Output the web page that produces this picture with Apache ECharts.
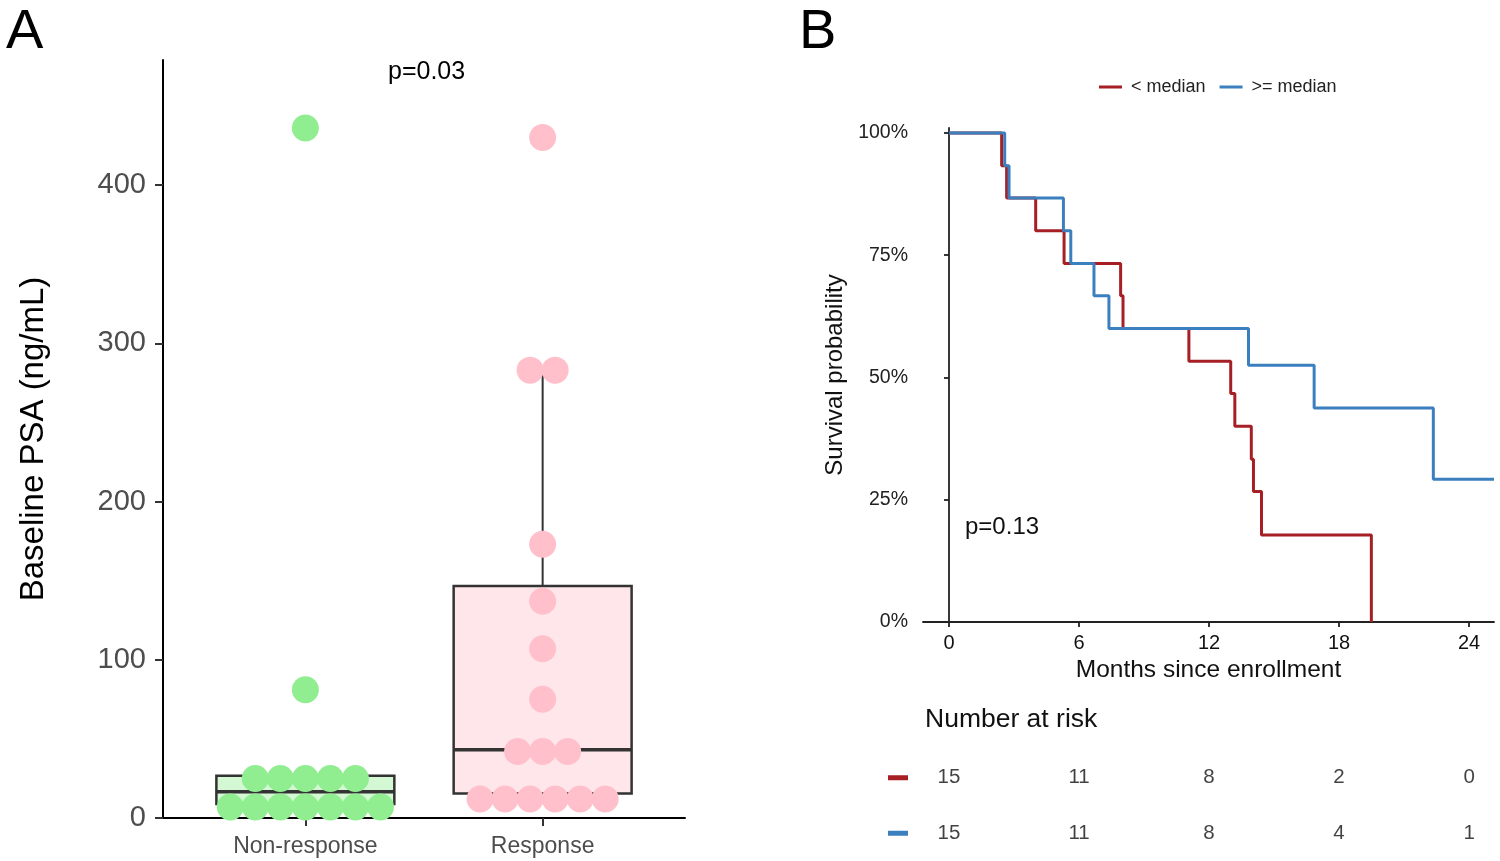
<!DOCTYPE html>
<html><head><meta charset="utf-8">
<script src="https://cdn.jsdelivr.net/npm/echarts@6/dist/echarts.min.js"></script>
<style>html,body{margin:0;padding:0;background:#fff}#c{width:1500px;height:861px}</style>
</head><body><div id="c"></div>
<script>
// ---------- Panel A data ----------
const groups = ['Non-response', 'Response'];
const nonResponsePSA = [436, 81, 25, 25, 25, 25, 25, 7, 7, 7, 7, 7, 7, 7];
const responsePSA = [430, 283, 283, 173, 137, 107, 75, 42, 42, 42, 12, 12, 12, 12, 12, 12];
// box stats: [lower whisker, Q1, median, Q3, upper whisker]
const nonResponseBox = [7, 8.8, 16.6, 26.7, 26.7];
const responseBox = [12, 15.5, 43.2, 146.6, 283];
const psaTicks = [0, 100, 200, 300, 400];

// ---------- Panel B data ----------
const seriesNames = ['< median', '>= median'];
const lowTimes = [0, 2.43, 2.66, 4.0, 5.31, 7.92, 8.03, 11.07, 13.0, 13.19, 13.95, 14.05, 14.42, 19.49];
const lowSurv  = [1, 0.933, 0.867, 0.8, 0.733, 0.667, 0.6, 0.533, 0.467, 0.4, 0.333, 0.267, 0.178, 0];
const highTimes = [0, 2.57, 2.77, 5.28, 5.62, 6.69, 7.38, 13.82, 16.85, 22.35, 25.15];
const highSurv  = [1, 0.933, 0.867, 0.8, 0.733, 0.667, 0.6, 0.525, 0.4375, 0.292, 0.292];
const monthTicks = [0, 6, 12, 18, 24];
const survTicks = [0, 0.25, 0.5, 0.75, 1];
const riskTimes = [0, 6, 12, 18, 24];
const riskLow = [15, 11, 8, 2, 0];
const riskHigh = [15, 11, 8, 4, 1];

// ---------- styles ----------
const GREEN = '#90EE90', PINK = '#FFC0CB';
const GREEN_FILL = '#d3f8d3', PINK_FILL = '#ffe6ea';
const RED = '#a51f24', BLUE = '#3b7fbf';
const FONT = '"Liberation Sans", Arial, Helvetica, sans-serif';
const DOT_STEP = 0.1055, BOX_HALF = 0.375;

function dotLayout(values, pos) {
  const counts = new Map();
  values.forEach(v => counts.set(v, (counts.get(v) || 0) + 1));
  const out = [];
  counts.forEach((n, v) => {
    for (let i = 0; i < n; i++) out.push([pos + (i - (n - 1) / 2) * DOT_STEP, v]);
  });
  return out;
}
const zip = (a, b) => a.map((v, i) => [v, b[i]]);

const boxFills = [GREEN_FILL, PINK_FILL];
const boxData = [[1, ...nonResponseBox], [2, ...responseBox]];

const chart = echarts.init(document.getElementById('c'), null, {renderer: 'canvas'});
chart.setOption({
  animation: false,
  backgroundColor: '#fff',
  textStyle: {fontFamily: FONT},
  title: [
    {text: 'A', left: 1, top: 0, textStyle: {fontSize: 56, fontWeight: 'normal', color: '#000', fontFamily: FONT}},
    {text: 'B', left: 794, top: 0, textStyle: {fontSize: 56, fontWeight: 'normal', color: '#000', fontFamily: FONT}},
    {text: 'p=0.03', left: 383, top: 55, textStyle: {fontSize: 25, fontWeight: 'normal', color: '#000', fontFamily: FONT}},
    {text: 'p=0.13', left: 960, top: 510, textStyle: {fontSize: 24, fontWeight: 'normal', color: '#111', fontFamily: FONT}},
    {text: 'Number at risk', left: 920, top: 701, textStyle: {fontSize: 26.5, fontWeight: 'normal', color: '#111', fontFamily: FONT}}
  ],
  legend: {
    data: seriesNames, left: 1094, top: 73, icon: 'rect', itemWidth: 23, itemHeight: 3, itemGap: 14,
    textStyle: {fontSize: 18, color: '#222', fontFamily: FONT, padding: [0, 0, 0, 4]}
  },
  grid: [
    {left: 163, right: 815, top: 60, bottom: 43},
    {left: 923, right: 6, top: 128, bottom: 239},
    {left: 923, right: 6, top: 750, height: 111}
  ],
  xAxis: [
    {gridIndex: 0, type: 'value', min: 0.4, max: 2.6, splitLine: {show: false},
     axisLine: {lineStyle: {color: '#000', width: 2}},
     axisTick: {customValues: [1, 2], length: 8, lineStyle: {color: '#333', width: 2}},
     axisLabel: {customValues: [1, 2], formatter: v => groups[Math.round(v) - 1], fontSize: 23, color: '#4d4d4d', margin: 17}},
    {gridIndex: 1, type: 'value', min: -1.2, max: 25.15, splitLine: {show: false},
     name: 'Months since enrollment', nameLocation: 'middle', nameGap: 36,
     nameTextStyle: {fontSize: 24.5, color: '#111'},
     axisLine: {lineStyle: {color: '#222', width: 1.8}},
     axisTick: {customValues: monthTicks, length: 5, lineStyle: {color: '#222', width: 1.8}},
     axisLabel: {customValues: monthTicks, fontSize: 20, color: '#111', margin: 11}},
    {gridIndex: 2, type: 'value', min: -1.2, max: 25.15, show: false}
  ],
  yAxis: [
    {gridIndex: 0, type: 'value', min: 0, max: 479, splitLine: {show: false},
     name: 'Baseline PSA (ng/mL)', nameLocation: 'middle', nameGap: 113,
     nameTextStyle: {fontSize: 33, color: '#000'},
     axisLine: {show: true, lineStyle: {color: '#000', width: 2}},
     axisTick: {show: true, customValues: psaTicks, length: 8, lineStyle: {color: '#333', width: 2}},
     axisLabel: {customValues: psaTicks, fontSize: 29, color: '#4d4d4d', margin: 17}},
    {gridIndex: 1, type: 'value', min: 0, max: 1.01, splitLine: {show: false},
     name: 'Survival probability', nameLocation: 'middle', nameGap: 76,
     nameTextStyle: {fontSize: 24, color: '#111'},
     axisLine: {show: true, lineStyle: {color: '#222', width: 1.8}},
     axisTick: {show: true, customValues: survTicks, length: 5, lineStyle: {color: '#222', width: 1.8}},
     axisLabel: {customValues: survTicks, formatter: v => Math.round(v * 100) + '%', fontSize: 19.5, color: '#222', margin: 15}},
    {gridIndex: 2, type: 'category', data: seriesNames, inverse: true,
     axisLine: {show: false}, axisTick: {show: false}, splitLine: {show: false},
     axisLabel: {margin: 15, formatter: (v, i) => i === 0 ? '{r|}' : '{b|}',
       rich: {r: {backgroundColor: RED, width: 20, height: 5}, b: {backgroundColor: BLUE, width: 20, height: 5}}}}
  ],
  series: [
    {type: 'custom', xAxisIndex: 0, yAxisIndex: 0, z: 1, data: boxData,
     renderItem: (params, api) => {
       const x = api.value(0), lo = api.value(1), q1 = api.value(2), med = api.value(3), q3 = api.value(4), hi = api.value(5);
       const tl = api.coord([x - BOX_HALF, q3]), br = api.coord([x + BOX_HALF, q1]);
       const ml = api.coord([x - BOX_HALF, med]), mr = api.coord([x + BOX_HALF, med]);
       const top = api.coord([x, q3]), hiP = api.coord([x, hi]);
       const bot = api.coord([x, q1]), loP = api.coord([x, lo]);
       const ls = {stroke: '#333', lineWidth: 2};
       return {type: 'group', children: [
         {type: 'line', shape: {x1: top[0], y1: top[1], x2: hiP[0], y2: hiP[1]}, style: ls},
         {type: 'line', shape: {x1: bot[0], y1: bot[1], x2: loP[0], y2: loP[1]}, style: ls},
         {type: 'rect', shape: {x: tl[0], y: tl[1], width: br[0] - tl[0], height: br[1] - tl[1]},
          style: {fill: boxFills[params.dataIndex], stroke: '#333', lineWidth: 2.5}},
         {type: 'line', shape: {x1: ml[0], y1: ml[1], x2: mr[0], y2: mr[1]}, style: {stroke: '#333', lineWidth: 3.5}}
       ]};
     }},
    {type: 'scatter', xAxisIndex: 0, yAxisIndex: 0, z: 5, symbolSize: 27,
     itemStyle: {color: GREEN, opacity: 1}, data: dotLayout(nonResponsePSA, 1)},
    {type: 'scatter', xAxisIndex: 0, yAxisIndex: 0, z: 5, symbolSize: 27,
     itemStyle: {color: PINK, opacity: 1}, data: dotLayout(responsePSA, 2)},
    {name: seriesNames[0], type: 'line', xAxisIndex: 1, yAxisIndex: 1, step: 'end', showSymbol: false, symbol: 'none',
     color: RED, lineStyle: {color: RED, width: 3}, data: zip(lowTimes, lowSurv), z: 3},
    {name: seriesNames[1], type: 'line', xAxisIndex: 1, yAxisIndex: 1, step: 'end', showSymbol: false, symbol: 'none',
     color: BLUE, lineStyle: {color: BLUE, width: 3}, data: zip(highTimes, highSurv), z: 4},
    {type: 'scatter', xAxisIndex: 2, yAxisIndex: 2, symbol: 'rect', symbolSize: 1, itemStyle: {color: 'rgba(0,0,0,0)'},
     label: {show: true, position: 'inside', formatter: p => String(p.value[2]), fontSize: 20.5, color: '#111', fontFamily: FONT},
     data: riskTimes.map((t, i) => [t, 0, riskLow[i]]).concat(riskTimes.map((t, i) => [t, 1, riskHigh[i]]))}
  ]
});
</script>
</body></html>
